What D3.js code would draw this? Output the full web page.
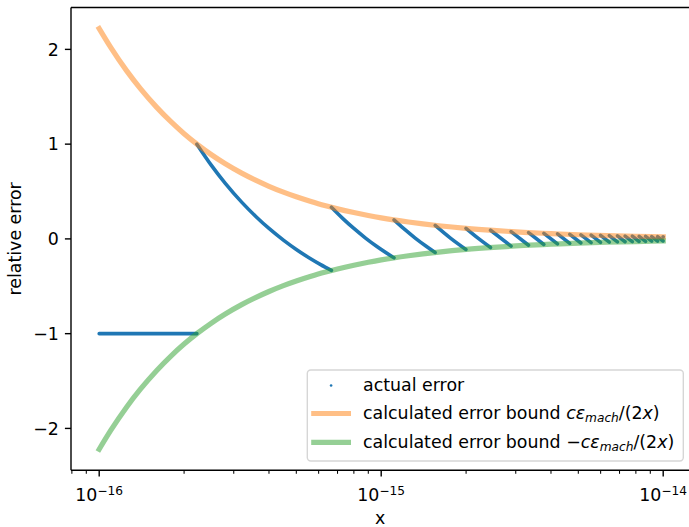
<!DOCTYPE html>
<html>
<head>
<meta charset="utf-8">
<script src="https://cdn.jsdelivr.net/npm/d3@7"></script>
<style>
  html, body { margin: 0; padding: 0; background: #fff; }
  svg { display: block; }
  text { font-family: "DejaVu Sans", sans-serif; fill: #000; }
</style>
</head>
<body>
<svg id="chart" width="689" height="527"></svg>
<script>
// ---------------- data ----------------
const xDomain = [Math.pow(10, -16.1), Math.pow(10, -13.9)];
const yDomain = [-2.442, 2.442];
const yTicks = [-2, -1, 0, 1, 2];
const yTickLabels = ["\u22122", "\u22121", "0", "1", "2"];
const xMajorTicks = [1e-16, 1e-15, 1e-14];
const xMajorExponents = ["\u221216", "\u221215", "\u221214"];
const xMinorMantissas = [2, 3, 4, 5, 6, 7, 8, 9];

// error bound curves
const boundX = [1e-16, 1.1e-16, 1.25e-16, 1.4e-16, 1.6e-16, 1.8e-16, 2e-16, 2.25e-16, 2.5e-16,
  2.8e-16, 3.2e-16, 3.6e-16, 4e-16, 4.5e-16, 5e-16, 5.6e-16, 6.3e-16, 7e-16, 8e-16, 9e-16,
  1e-15, 1.25e-15, 1.6e-15, 2e-15, 2.5e-15, 3.2e-15, 4e-15, 5e-15, 6.3e-15, 8e-15, 1e-14];
const boundUpper = [2.220, 2.019, 1.776, 1.586, 1.388, 1.234, 1.110, 0.987, 0.888,
  0.793, 0.694, 0.617, 0.555, 0.493, 0.444, 0.397, 0.352, 0.317, 0.278, 0.247,
  0.222, 0.178, 0.139, 0.111, 0.089, 0.069, 0.056, 0.044, 0.035, 0.028, 0.022];
const boundLower = [-2.220, -2.019, -1.776, -1.586, -1.388, -1.234, -1.110, -0.987, -0.888,
  -0.793, -0.694, -0.617, -0.555, -0.493, -0.444, -0.397, -0.352, -0.317, -0.278, -0.247,
  -0.222, -0.178, -0.139, -0.111, -0.089, -0.069, -0.056, -0.044, -0.035, -0.028, -0.022];

// actual error: sawtooth pieces (x values and y values of each piece)
const toothX = [
  [1e-16, 2.22e-16],
  [2.22e-16, 2.5e-16, 2.8e-16, 3.2e-16, 3.6e-16, 4e-16, 4.5e-16, 5e-16, 5.6e-16, 6.1e-16, 6.66e-16],
  [6.66e-16, 7.3e-16, 8e-16, 8.8e-16, 9.6e-16, 1.11e-15],
  [1.11e-15, 1.2e-15, 1.32e-15, 1.44e-15, 1.554e-15],
  [1.554e-15, 1.76e-15, 1.998e-15],
  [1.998e-15, 2.21e-15, 2.442e-15],
  [2.442e-15, 2.887e-15],
  [2.887e-15, 3.331e-15],
  [3.331e-15, 3.775e-15],
  [3.775e-15, 4.219e-15],
  [4.219e-15, 4.663e-15],
  [4.663e-15, 5.107e-15],
  [5.107e-15, 5.551e-15],
  [5.551e-15, 5.995e-15],
  [5.995e-15, 6.439e-15],
  [6.439e-15, 6.883e-15],
  [6.883e-15, 7.327e-15],
  [7.327e-15, 7.772e-15],
  [7.772e-15, 8.216e-15],
  [8.216e-15, 8.660e-15],
  [8.660e-15, 9.104e-15],
  [9.104e-15, 9.548e-15],
  [9.548e-15, 9.992e-15],
  [9.992e-15, 1e-14]
];
const toothY = [
  [-1, -1],
  [1.0, 0.776, 0.586, 0.388, 0.234, 0.110, -0.013, -0.112, -0.207, -0.272, -0.333],
  [0.334, 0.217, 0.110, 0.009, -0.075, -0.200],
  [0.200, 0.110, 0.009, -0.075, -0.143],
  [0.143, 0.009, -0.111],
  [0.111, 0.005, -0.091],
  [0.091, -0.077],
  [0.077, -0.067],
  [0.067, -0.059],
  [0.059, -0.053],
  [0.053, -0.048],
  [0.048, -0.043],
  [0.043, -0.040],
  [0.040, -0.037],
  [0.037, -0.034],
  [0.034, -0.032],
  [0.032, -0.030],
  [0.030, -0.029],
  [0.029, -0.027],
  [0.027, -0.026],
  [0.026, -0.024],
  [0.024, -0.023],
  [0.023, -0.022],
  [0.022, 0.021]
];

// ---------------- layout ----------------
const svg = d3.select("#chart");
const L = 71, R = 691.4, T = 7.5, B = 470.3;
const FS = 17.4;
const x = d3.scaleLog().domain(xDomain).range([L, R]);
const y = d3.scaleLinear().domain(yDomain).range([B, T]);

const blue = "#1f77b4", orange = "#ff7f0e", green = "#2ca02c";

const line = d3.line().x(d => x(d[0])).y(d => y(d[1])).curve(d3.curveMonotoneX);

// actual error pieces
const gData = svg.append("g");
toothX.forEach((xs, i) => {
  const pts = xs.map((v, j) => [v, toothY[i][j]]);
  gData.append("path")
    .attr("d", line(pts))
    .attr("fill", "none")
    .attr("stroke", blue)
    .attr("stroke-width", 3.6)
    .attr("stroke-linecap", "round")
    .attr("stroke-linejoin", "round");
});

// bounds
gData.append("path")
  .attr("d", line(boundX.map((v, i) => [v, boundUpper[i]])))
  .attr("fill", "none").attr("stroke", orange).attr("stroke-opacity", 0.5)
  .attr("stroke-width", 5.2).attr("stroke-linecap", "square");
gData.append("path")
  .attr("d", line(boundX.map((v, i) => [v, boundLower[i]])))
  .attr("fill", "none").attr("stroke", green).attr("stroke-opacity", 0.5)
  .attr("stroke-width", 5.2).attr("stroke-linecap", "square");

// ---------------- axes ----------------
const gAx = svg.append("g").attr("stroke", "#000").attr("stroke-width", 1.4);
gAx.append("line").attr("x1", L).attr("x2", L).attr("y1", T).attr("y2", B);
gAx.append("line").attr("x1", L).attr("x2", R).attr("y1", B).attr("y2", B);
gAx.append("line").attr("x1", L).attr("x2", R).attr("y1", T).attr("y2", T);
gAx.append("line").attr("x1", R).attr("x2", R).attr("y1", T).attr("y2", B);

// y ticks
yTicks.forEach((t, i) => {
  const yy = y(t);
  gAx.append("line").attr("x1", L).attr("x2", L - 6.1).attr("y1", yy).attr("y2", yy);
  svg.append("text")
    .attr("x", L - 6.1 - 6.1)
    .attr("y", yy + 6.3)
    .attr("text-anchor", "end")
    .attr("font-size", FS)
    .text(yTickLabels[i]);
});

// x major ticks
xMajorTicks.forEach((t, i) => {
  const xx = x(t);
  gAx.append("line").attr("x1", xx).attr("x2", xx).attr("y1", B).attr("y2", B + 6.1);
  const tx = svg.append("text")
    .attr("x", xx)
    .attr("y", 501)
    .attr("text-anchor", "middle")
    .attr("font-size", FS);
  tx.append("tspan").text("10");
  tx.append("tspan").attr("font-size", FS * 0.7).attr("dy", -6.3).text(xMajorExponents[i]);
});

// x minor ticks
const lo = Math.floor(Math.log10(xDomain[0])), hi = Math.ceil(Math.log10(xDomain[1]));
for (let e = lo; e <= hi; e++) {
  xMinorMantissas.forEach(m => {
    const v = m * Math.pow(10, e);
    if (v >= xDomain[0] && v <= xDomain[1]) {
      const xx = x(v);
      gAx.append("line").attr("stroke-width", 1.05)
        .attr("x1", xx).attr("x2", xx).attr("y1", B).attr("y2", B + 3.5);
    }
  });
}

// axis labels
svg.append("text")
  .attr("x", (L + R) / 2 - 1).attr("y", 523.5)
  .attr("text-anchor", "middle").attr("font-size", FS)
  .text("x");
svg.append("text")
  .attr("transform", `translate(21,${(T + B) / 2}) rotate(-90)`)
  .attr("text-anchor", "middle").attr("font-size", FS)
  .text("relative error");

// ---------------- legend ----------------
const lg = svg.append("g");
lg.append("rect")
  .attr("x", 307.3).attr("y", 370).attr("width", 376).attr("height", 91)
  .attr("rx", 3.5).attr("ry", 3.5)
  .attr("fill", "#fff").attr("fill-opacity", 0.8)
  .attr("stroke", "#cccccc").attr("stroke-opacity", 0.8).attr("stroke-width", 1.4);

const hx1 = 313.8, hx2 = 348.4, tx0 = 363;
lg.append("circle").attr("cx", (hx1 + hx2) / 2).attr("cy", 385.5).attr("r", 1.3).attr("fill", blue);
lg.append("line").attr("x1", hx1).attr("x2", hx2).attr("y1", 413.5).attr("y2", 413.5)
  .attr("stroke", orange).attr("stroke-opacity", 0.5).attr("stroke-width", 5.2).attr("stroke-linecap", "square");
lg.append("line").attr("x1", hx1).attr("x2", hx2).attr("y1", 442.3).attr("y2", 442.3)
  .attr("stroke", green).attr("stroke-opacity", 0.5).attr("stroke-width", 5.2).attr("stroke-linecap", "square");

lg.append("text").attr("x", tx0).attr("y", 390.5).attr("font-size", FS).text("actual error");

function mathLabel(yb, prefix, minus) {
  const t = lg.append("text").attr("x", tx0).attr("y", yb).attr("font-size", FS);
  t.append("tspan").text(prefix);
  if (minus) t.append("tspan").text("\u2212");
  t.append("tspan").attr("font-style", "italic").text("c\u03b5");
  t.append("tspan").attr("font-style", "italic").attr("font-size", FS * 0.7).attr("dy", 3.4).text("mach");
  t.append("tspan").attr("dy", -3.4).text("/(2");
  t.append("tspan").attr("font-style", "italic").text("x");
  t.append("tspan").text(")");
}
mathLabel(418.8, "calculated error bound ", false);
mathLabel(447.6, "calculated error bound ", true);
</script>
</body>
</html>
